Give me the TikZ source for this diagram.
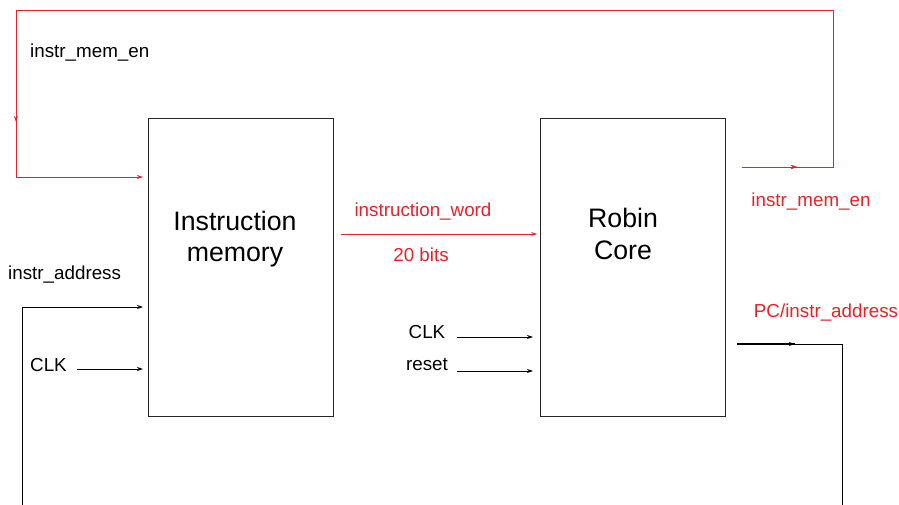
\documentclass[tikz,border=0pt]{standalone}
\usepackage{fontspec}
\setmainfont{Liberation Sans}
\usetikzlibrary{arrows.meta,decorations.markings,calc}
\definecolor{sigred}{RGB}{228,34,42}
\tikzset{
  tip/.style={-{Stealth[length=6pt,width=4pt]}},
  block/.style={draw=black!85,line width=0.9pt,minimum width=185pt,minimum height=298pt,inner sep=0pt},
  blocktext/.style={font=\fontsize{26.7}{31.5}\selectfont,align=center,inner sep=0pt},
  lbl/.style={font=\fontsize{18.8}{21}\selectfont,inner sep=0pt},
  wire/.style={line width=0.9pt},
  midtip/.style={postaction={decorate},decoration={markings,mark=at position #1 with {\arrow{Stealth[length=6pt,width=4pt]}}}}
}
\begin{document}
\begin{tikzpicture}[x=1pt,y=-1pt]
\useasboundingbox (0,0) rectangle (899,505);

% blocks
\node[block] (imem) at (240.5,267) {};
\node[block] (core) at (633,267) {};
\node[blocktext] (imemtxt) at (235,239) {Instruction\\memory};
\node[blocktext] (coretxt) at (623,234) {Robin\\Core};

% labels
\node[lbl,anchor=west] (enl) at (30,53) {instr\_mem\_en};
\node[lbl,anchor=west] (addrl) at (8,275) {instr\_address};
\node[lbl,anchor=west] (clkl) at (30,365) {CLK};
\node[lbl,text=sigred] (wordl) at (423,212) {instruction\_word};
\node[lbl,text=sigred] (bitsl) at (421,255) {20 bits};
\node[lbl] (clkc) at (427,332) {CLK};
\node[lbl] (rstc) at (427,365) {reset};
\node[lbl,text=sigred] (enr) at (811,202) {instr\_mem\_en};
\node[lbl,text=sigred] (pcl) at (826,313) {PC/instr\_address};

% wire corners
\coordinate (ens) at (742,167);
\coordinate (en1) at (833,167);
\coordinate (en2) at (833,10);
\coordinate (en3) at (16,10);
\coordinate (en4) at (16,177);
\coordinate (ene) at (143,177);
\coordinate (pcs) at (737,344);
\coordinate (pcm) at (795,344);
\coordinate (pc1) at (842,344);
\coordinate (pce) at (842,505);
\coordinate (ads) at (22,505);
\coordinate (ad1) at (22,307);
\coordinate (ade) at (143,307);

% enable feedback loop
\draw[wire,sigred,tip,midtip=55pt,
  postaction={decorate,decoration={markings,mark=at position 1177pt with {\arrow{Stealth[length=6pt,width=4pt]}}}}]
  (ens) -- (en1) -- (en2) -- (en3) -- (en4) -- (ene);

% instruction word bus
\draw[wire,sigred,tip] ($(imem.east)+(8,-33)$) -- ($(core.west)+(-3,-33)$);

% address feedback
\draw[line width=1.6pt] (pcs) -- (pcm);
\draw[wire,midtip=58pt] (pcs) -- (pc1) -- (pce);
\draw[wire,tip] (ads) -- (ad1) -- (ade);

% clock and reset inputs
\draw[wire,tip] (77,369) -- (143,369);
\draw[wire,tip] (457,337) -- (533,337);
\draw[wire,tip] (457,371) -- (533,371);
\end{tikzpicture}
\end{document}
